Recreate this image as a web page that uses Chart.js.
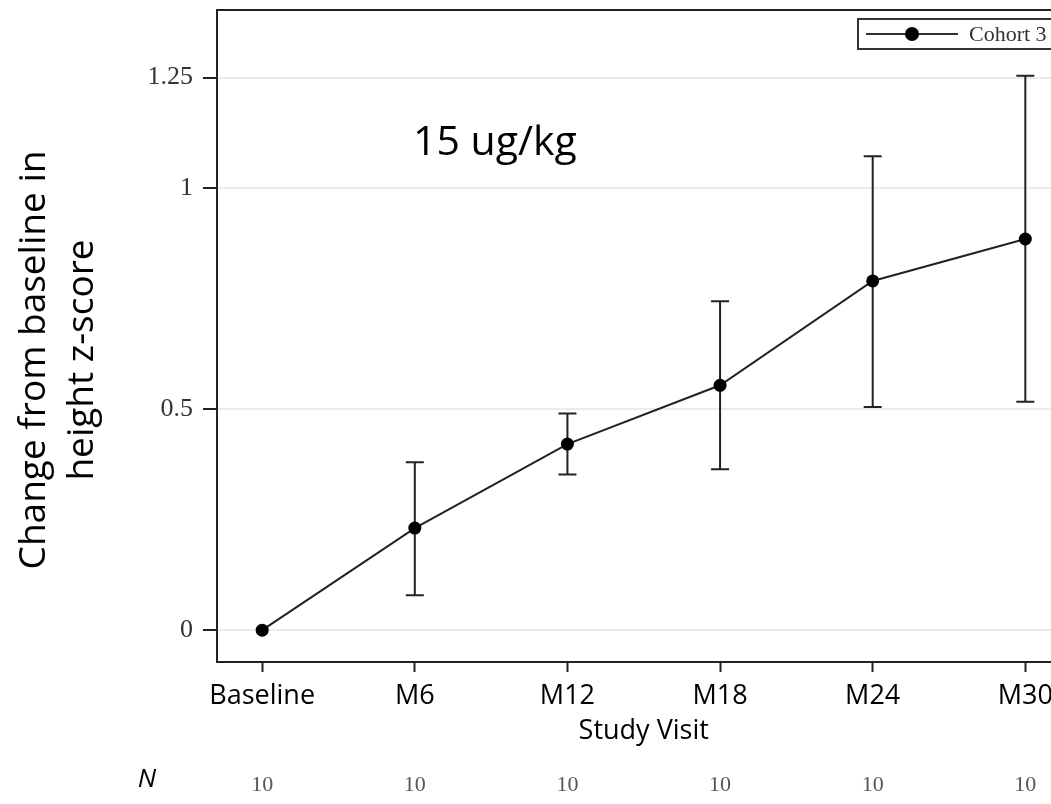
<!DOCTYPE html>
<html>
<head>
<meta charset="utf-8">
<script src="https://cdn.jsdelivr.net/npm/chart.js@4.4.1/dist/chart.umd.min.js"></script>
<style>
  html, body { margin: 0; padding: 0; background: #fff; overflow: hidden; }
  #wrap { width: 1051px; height: 804px; overflow: hidden; position: relative; }
  #myChart { position: absolute; left: 0; top: 0; }
</style>
</head>
<body>
<div id="wrap"><canvas id="myChart" width="1077" height="804"></canvas></div>
<script>
const visits = ["Baseline", "M6", "M12", "M18", "M24", "M30"];
const meanChange = [0, 0.231, 0.421, 0.554, 0.790, 0.885];
const upperBar = [null, 0.380, 0.490, 0.744, 1.072, 1.254];
const lowerBar = [null, 0.079, 0.352, 0.364, 0.505, 0.517];
const nPerVisit = [10, 10, 10, 10, 10, 10];
const yTicks = [0, 0.5, 1, 1.25];

const points = meanChange.map((v, i) => ({ x: i, y: v }));

const sans = "'Open Sans', sans-serif";
const serif = "'Liberation Serif', 'Times New Roman', serif";

// error bars under the points
const errorBars = {
  id: "errorBars",
  beforeDatasetsDraw(chart) {
    const ctx = chart.ctx;
    const xs = chart.scales.x, ys = chart.scales.y;
    ctx.save();
    ctx.strokeStyle = "#222";
    ctx.lineWidth = 2;
    visits.forEach((v, i) => {
      if (upperBar[i] == null) return;
      const x = xs.getPixelForValue(i);
      const yt = ys.getPixelForValue(upperBar[i]);
      const yb = ys.getPixelForValue(lowerBar[i]);
      ctx.beginPath();
      ctx.moveTo(x, yt); ctx.lineTo(x, yb);
      ctx.moveTo(x - 9, yt); ctx.lineTo(x + 9, yt);
      ctx.moveTo(x - 9, yb); ctx.lineTo(x + 9, yb);
      ctx.stroke();
    });
    ctx.restore();
  }
};

const extras = {
  id: "extras",
  afterDraw(chart) {
    const ctx = chart.ctx;
    const a = chart.chartArea;
    const xs = chart.scales.x;
    ctx.save();
    // frame
    ctx.strokeStyle = "#222";
    ctx.lineWidth = 2;
    ctx.strokeRect(a.left, a.top, a.right - a.left, a.bottom - a.top);

    // y title
    ctx.fillStyle = "#000";
    ctx.font = "37px " + sans;
    ctx.textAlign = "center";
    ctx.textBaseline = "alphabetic";
    ctx.save();
    ctx.translate(0, 360);
    ctx.rotate(-Math.PI / 2);
    ctx.fillText("Change from baseline in", 0, 45);
    ctx.fillText("height z-score", 0, 93);
    ctx.restore();

    // dose label
    ctx.textAlign = "left";
    ctx.font = "41px " + sans;
    ctx.fillText("15 ug/kg", 413, 155);

    // legend box
    ctx.fillStyle = "#fff";
    ctx.fillRect(858, 19, 220, 30);
    ctx.strokeStyle = "#333";
    ctx.lineWidth = 2;
    ctx.strokeRect(858, 19, 220, 30);
    ctx.beginPath();
    ctx.moveTo(866, 34); ctx.lineTo(958, 34);
    ctx.lineWidth = 1.8;
    ctx.stroke();
    ctx.beginPath();
    ctx.arc(912, 34, 7, 0, Math.PI * 2);
    ctx.fillStyle = "#000";
    ctx.fill();
    ctx.fillStyle = "#333";
    ctx.font = "22px " + serif;
    ctx.textBaseline = "middle";
    ctx.fillText("Cohort 3", 969, 35);

    // N row
    ctx.fillStyle = "#000";
    ctx.font = "italic 26px " + sans;
    ctx.textAlign = "center";
    ctx.fillText("N", 147, 780);
    ctx.fillStyle = "#555";
    ctx.font = "22px " + serif;
    nPerVisit.forEach((n, i) => {
      ctx.fillText(String(n), xs.getPixelForValue(i), 785);
    });
    ctx.restore();
  }
};

new Chart(document.getElementById("myChart"), {
  type: "line",
  data: {
    datasets: [{
      label: "Cohort 3",
      data: points,
      borderColor: "#222",
      borderWidth: 2,
      backgroundColor: "#000",
      pointRadius: 6.5,
      pointBackgroundColor: "#000",
      pointBorderWidth: 0,
      fill: false,
      tension: 0
    }]
  },
  options: {
    responsive: false,
    animation: false,
    layout: { padding: { top: 10, left: 0, right: 0, bottom: 0 } },
    plugins: { legend: { display: false }, tooltip: { enabled: false } },
    scales: {
      x: {
        type: "linear",
        min: -0.296,
        max: 5.296,
        afterBuildTicks: (s) => { s.ticks = visits.map((v, i) => ({ value: i })); },
        afterFit: (s) => { s.height = 142; s.paddingLeft = 0; s.paddingRight = 0; },
        ticks: {
          callback: (v) => visits[v],
          color: "#000",
          font: { family: sans, size: 27 },
          padding: 8,
          maxRotation: 0,
          autoSkip: false
        },
        grid: { drawOnChartArea: false, tickLength: 10, tickColor: "#222", tickWidth: 2 },
        border: { color: "#222", width: 2 },
        title: {
          display: true,
          text: "Study Visit",
          color: "#000",
          font: { family: sans, size: 27 },
          padding: { top: 0, bottom: 56 }
        }
      },
      y: {
        min: -0.072,
        max: 1.403,
        afterBuildTicks: (s) => { s.ticks = yTicks.map((v) => ({ value: v })); },
        afterFit: (s) => { s.width = 217; s.paddingTop = 0; s.paddingBottom = 0; },
        ticks: {
          callback: (v) => String(v),
          color: "#333",
          font: { family: serif, size: 26 },
          padding: 10
        },
        grid: { color: "#ebebeb", lineWidth: 2, tickLength: 14, tickColor: "#222", tickWidth: 2 },
        border: { color: "#222", width: 2 }
      }
    }
  },
  plugins: [errorBars, extras]
});
</script>
</body>
</html>
